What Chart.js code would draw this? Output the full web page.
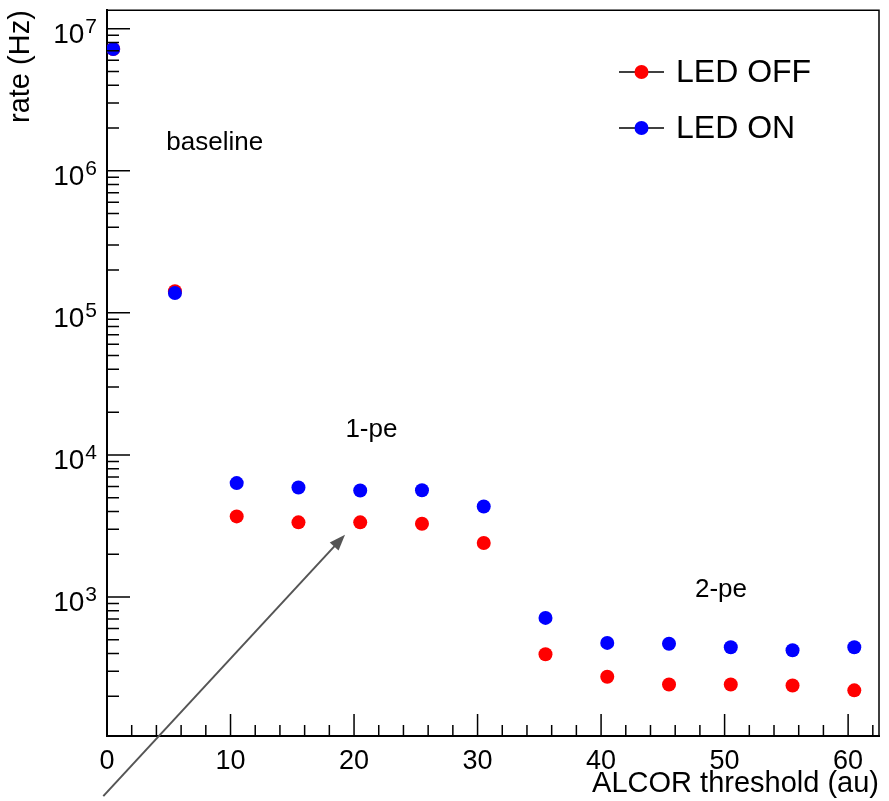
<!DOCTYPE html>
<html>
<head>
<meta charset="utf-8">
<script src="https://cdn.jsdelivr.net/npm/chart.js@4.4.1/dist/chart.umd.min.js"></script>
<style>
  html, body { margin: 0; padding: 0; background: #fff; }
  canvas { display: block; }
</style>
</head>
<body>
<canvas id="grafico" width="889" height="801"></canvas>
<script>
// datos
const thresholds = [0.5, 5.5, 10.5, 15.5, 20.5, 25.5, 30.5, 35.5, 40.5, 45.5, 50.5, 55.5, 60.5];
const rateLedOff = [7.2e6, 1.42e5, 3690, 3350, 3350, 3275, 2400, 395, 274, 242, 242, 238, 220];
const rateLedOn  = [7.2e6, 1.38e5, 6330, 5900, 5620, 5640, 4335, 712, 475, 468, 443, 422, 443];
const xTickLabels = [0, 10, 20, 30, 40, 50, 60];
const yDecadeExps = [3, 4, 5, 6, 7];
const seriesNames = ['LED OFF', 'LED ON'];
const seriesColors = ['#ff0000', '#0000ff'];

// textos de anotacion (en coordenadas de datos)
const noteTexts = ['baseline', '1-pe', '2-pe'];
const noteX = [4.8, 19.3, 47.6];
const noteY = [1.57e6, 1.5e4, 1125];
// flecha (coordenadas de datos)
const arrowFrom = [-0.3, 39.6];
const arrowTo = [19.27, 2740];

const FONT = '"Liberation Sans", Arial, Helvetica, sans-serif';

function toPoints(xs, ys) {
    return xs.map((x, i) => ({ x: x, y: ys[i] }));
}

// plugin para marco, ticks interiores, etiquetas 10^n, leyenda y anotaciones
const rootStyle = {
    id: 'rootStyle',
    afterDraw(chart) {
        const ctx = chart.ctx;
        const area = chart.chartArea;
        const xs = chart.scales.x;
        const ys = chart.scales.y;
        ctx.save();

        // marco superior y derecho
        ctx.strokeStyle = '#000';
        ctx.lineWidth = 1.5;
        ctx.beginPath();
        ctx.moveTo(area.left, area.top);
        ctx.lineTo(area.right, area.top);
        ctx.lineTo(area.right, area.bottom);
        ctx.stroke();

        // ticks eje x
        ctx.lineWidth = 1.5;
        ctx.beginPath();
        for (let v = 0; v <= xs.max; v += 2) {
            const px = xs.getPixelForValue(v);
            const len = (v % 10 === 0) ? 22 : 11;
            ctx.moveTo(px, area.bottom);
            ctx.lineTo(px, area.bottom - len);
        }
        ctx.stroke();

        // ticks eje y
        ctx.beginPath();
        for (let e = 2; e <= 7; e++) {
            for (let m = 1; m <= 9; m++) {
                const v = m * Math.pow(10, e);
                if (v < ys.min || v > ys.max) continue;
                const py = ys.getPixelForValue(v);
                const len = (m === 1) ? 23 : 12;
                ctx.moveTo(area.left, py);
                ctx.lineTo(area.left + len, py);
            }
        }
        ctx.stroke();

        // etiquetas 10^n
        ctx.fillStyle = '#000';
        yDecadeExps.forEach(e => {
            const py = ys.getPixelForValue(Math.pow(10, e));
            ctx.font = '21px ' + FONT;
            ctx.textAlign = 'right';
            ctx.textBaseline = 'alphabetic';
            const expW = ctx.measureText(String(e)).width;
            const expX = area.left - 10;
            ctx.fillText(String(e), expX, py + 4);
            ctx.font = '28px ' + FONT;
            ctx.fillText('10', expX - expW - 1, py + 14);
        });

        // anotaciones
        ctx.font = '26px ' + FONT;
        ctx.textAlign = 'left';
        ctx.textBaseline = 'middle';
        noteTexts.forEach((t, i) => {
            ctx.fillText(t, xs.getPixelForValue(noteX[i]), ys.getPixelForValue(noteY[i]));
        });

        // flecha
        const x0 = xs.getPixelForValue(arrowFrom[0]);
        const y0 = ys.getPixelForValue(arrowFrom[1]);
        const x1 = xs.getPixelForValue(arrowTo[0]);
        const y1 = ys.getPixelForValue(arrowTo[1]);
        const ang = Math.atan2(y1 - y0, x1 - x0);
        ctx.strokeStyle = '#555';
        ctx.fillStyle = '#555';
        ctx.lineWidth = 2;
        ctx.beginPath();
        ctx.moveTo(x0, y0);
        ctx.lineTo(x1 - 10 * Math.cos(ang), y1 - 10 * Math.sin(ang));
        ctx.stroke();
        ctx.beginPath();
        ctx.moveTo(x1, y1);
        ctx.lineTo(x1 - 16 * Math.cos(ang) + 6 * Math.sin(ang), y1 - 16 * Math.sin(ang) - 6 * Math.cos(ang));
        ctx.lineTo(x1 - 16 * Math.cos(ang) - 6 * Math.sin(ang), y1 - 16 * Math.sin(ang) + 6 * Math.cos(ang));
        ctx.closePath();
        ctx.fill();

        // leyenda
        ctx.font = '32px ' + FONT;
        ctx.textAlign = 'left';
        ctx.textBaseline = 'middle';
        seriesNames.forEach((name, i) => {
            const ly = 72 + i * 56;
            ctx.strokeStyle = '#000';
            ctx.lineWidth = 1.5;
            ctx.beginPath();
            ctx.moveTo(619, ly);
            ctx.lineTo(664, ly);
            ctx.stroke();
            ctx.fillStyle = seriesColors[i];
            ctx.beginPath();
            ctx.arc(641.5, ly, 7, 0, Math.PI * 2);
            ctx.fill();
            ctx.fillStyle = '#000';
            ctx.fillText(name, 676, ly + 1);
        });

        ctx.restore();
    }
};

const grafico = new Chart(document.getElementById('grafico').getContext('2d'), {
    type: 'scatter',
    data: {
        datasets: [
            {
                label: seriesNames[0],
                data: toPoints(thresholds, rateLedOff),
                backgroundColor: seriesColors[0],
                borderColor: seriesColors[0],
                pointRadius: 7,
                borderWidth: 0,
                order: 2
            },
            {
                label: seriesNames[1],
                data: toPoints(thresholds, rateLedOn),
                backgroundColor: seriesColors[1],
                borderColor: seriesColors[1],
                pointRadius: 7,
                borderWidth: 0,
                order: 1
            }
        ]
    },
    options: {
        responsive: false,
        animation: false,
        layout: { padding: { top: 9, right: 10, left: 0, bottom: 0 } },
        plugins: {
            legend: { display: false },
            tooltip: { enabled: false }
        },
        scales: {
            x: {
                type: 'linear',
                position: 'bottom',
                min: 0,
                max: 62.5,
                grid: { display: false },
                border: { color: '#000', width: 2 },
                afterBuildTicks: s => { s.ticks = xTickLabels.map(v => ({ value: v })); },
                ticks: {
                    autoSkip: false,
                    maxRotation: 0,
                    padding: 1,
                    color: '#000',
                    font: { size: 27, family: FONT },
                    callback: v => String(v)
                },
                title: {
                    display: true,
                    text: 'ALCOR threshold (au)',
                    align: 'end',
                    color: '#000',
                    font: { size: 29, family: FONT },
                    padding: { top: 0, bottom: 0 }
                },
                afterFit: s => { s.height = 65; }
            },
            y: {
                type: 'logarithmic',
                min: 105,
                max: 1.35e7,
                grid: { display: false },
                border: { color: '#000', width: 2 },
                ticks: { callback: () => '' },
                title: {
                    display: true,
                    text: 'rate (Hz)',
                    align: 'end',
                    color: '#000',
                    font: { size: 29, family: FONT },
                    padding: { top: 4, bottom: 4 }
                },
                afterFit: s => { s.width = 107; }
            }
        }
    },
    plugins: [rootStyle]
});
</script>
</body>
</html>
